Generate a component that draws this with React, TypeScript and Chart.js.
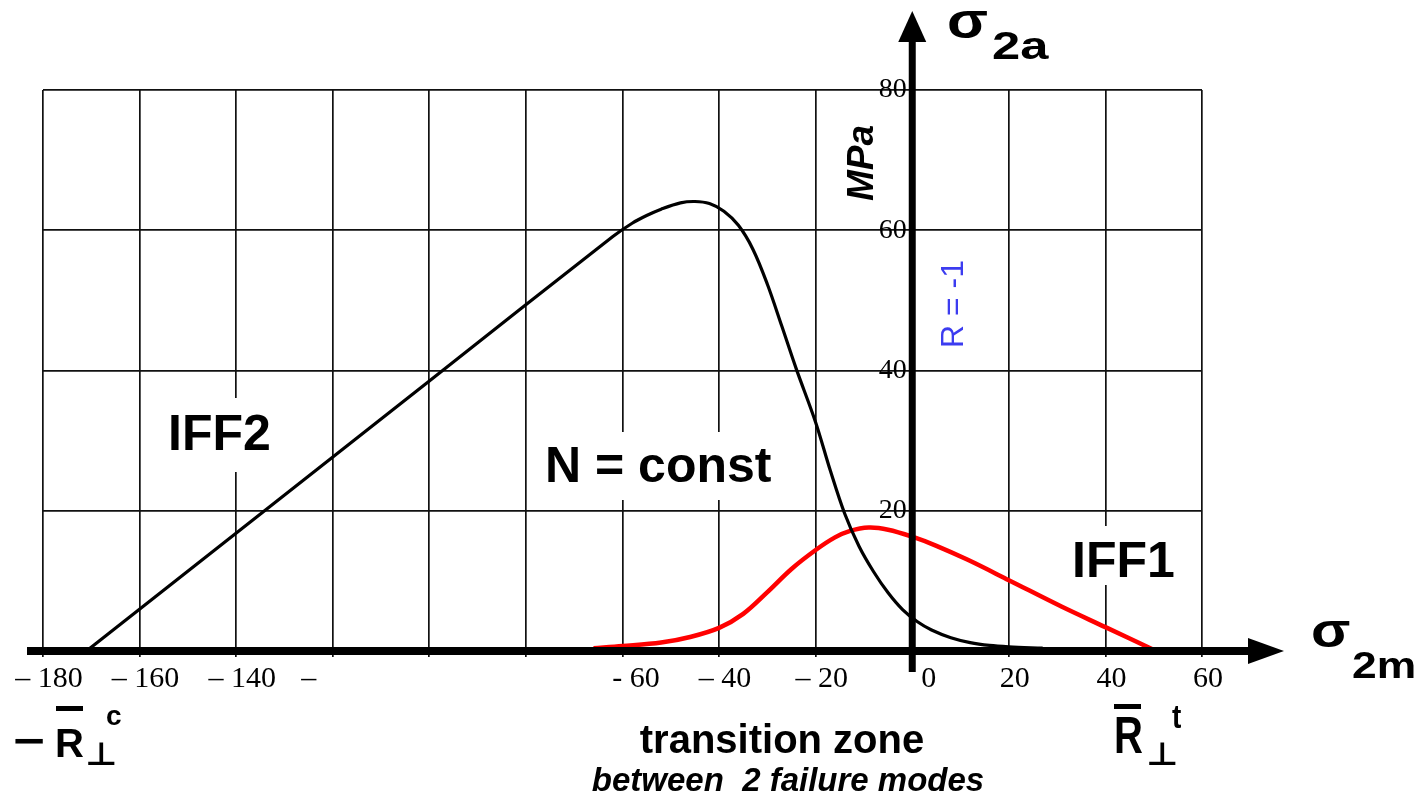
import React, { useEffect, useRef } from 'react';
import { Chart, registerables } from 'chart.js';

Chart.register(...registerables);

// ---- axis ticks ----
const xTickValues = [-180, -160, -140, -120, -100, -80, -60, -40, -20, 0, 20, 40, 60];
const xTickLabels = ['– 180', '– 160', '– 140', '–\u2003\u2003', '', '', '\u2002- 60', '– 40', '– 20', '\u2002\u20090', '20', '40', '60'];
const yTickValues = [0, 20, 40, 60, 80];
const yTickLabels = ['', '20\u2009', '40\u2009', '60\u2009', '80\u2009'];

// ---- IFF2 curve (black) ----
const iff2X = [-171, -100, -62, -58, -55, -52, -48, -45, -42, -39, -36, -33, -30, -27, -24, -20, -17, -14, -11, -8, -5, -2, 1, 4, 8, 12, 16, 20, 27];
const iff2Y = [0, 38.5, 59.1, 61.0, 62.1, 63.0, 63.9, 64.1, 63.8, 62.7, 60.7, 57.3, 52.3, 46.3, 40.2, 32.6, 25.8, 19.6, 14.9, 11.3, 8.3, 5.9, 4.2, 3.0, 1.9, 1.2, 0.8, 0.6, 0.4];

// ---- IFF1 curve (red) ----
const iff1X = [-66, -60, -52, -46, -40, -35, -30, -25, -20, -16, -13, -9, -5, 0, 5, 11.5, 20, 31, 40, 50.5];
const iff1Y = [0.4, 0.7, 1.2, 2.0, 3.3, 5.3, 8.4, 11.7, 14.4, 16.2, 17.1, 17.6, 17.3, 16.3, 15.0, 13.0, 10.1, 6.3, 3.4, 0];

const toPoints = (xs: number[], ys: number[]) => xs.map((x, i) => ({ x, y: ys[i] }));

function txt(
  ctx: CanvasRenderingContext2D,
  s: string,
  x: number,
  y: number,
  font: string,
  color = '#000',
  align: CanvasTextAlign = 'left',
  sx = 1,
  sy = 1,
  rot = 0
) {
  ctx.save();
  ctx.translate(x, y);
  if (rot) ctx.rotate(rot);
  ctx.scale(sx, sy);
  ctx.font = font;
  ctx.fillStyle = color;
  ctx.textAlign = align;
  ctx.textBaseline = 'alphabetic';
  ctx.fillText(s, 0, 0);
  ctx.restore();
}

const SANS = '"Liberation Sans", Arial, sans-serif';

const annotPlugin = {
  id: 'annot',
  beforeDatasetsDraw(chart: any) {
    const ctx: CanvasRenderingContext2D = chart.ctx;
    ctx.save();
    ctx.fillStyle = '#fff';
    ctx.fillRect(158, 398, 122, 74);
    ctx.fillRect(535, 432, 250, 68);
    ctx.fillRect(1062, 526, 115, 59);
    ctx.restore();
    txt(ctx, 'IFF2', 168, 450, `bold 50px ${SANS}`);
    txt(ctx, 'N = const', 545, 482, `bold 50px ${SANS}`);
    txt(ctx, 'IFF1', 1072, 577, `bold 50px ${SANS}`);
  },
  afterDraw(chart: any) {
    const ctx: CanvasRenderingContext2D = chart.ctx;
    const ax = chart.scales.x.getPixelForValue(0);
    const ay = chart.scales.y.getPixelForValue(0);
    ctx.save();
    ctx.fillStyle = '#000';
    ctx.strokeStyle = '#000';
    // x axis
    ctx.lineWidth = 8;
    ctx.beginPath();
    ctx.moveTo(27, ay);
    ctx.lineTo(1252, ay);
    ctx.stroke();
    ctx.beginPath();
    ctx.moveTo(1284, ay);
    ctx.lineTo(1248, ay - 13);
    ctx.lineTo(1248, ay + 13);
    ctx.closePath();
    ctx.fill();
    // y axis
    ctx.lineWidth = 7;
    ctx.beginPath();
    ctx.moveTo(ax, 672);
    ctx.lineTo(ax, 38);
    ctx.stroke();
    ctx.beginPath();
    ctx.moveTo(ax, 11);
    ctx.lineTo(ax - 14, 42);
    ctx.lineTo(ax + 14, 42);
    ctx.closePath();
    ctx.fill();
    ctx.restore();

    // axis names
    txt(ctx, 'σ', 947, 38, `bold 50px ${SANS}`, '#000', 'left', 1.2, 1);
    txt(ctx, '2a', 992, 59, `bold 39px ${SANS}`, '#000', 'left', 1.3, 1);
    txt(ctx, 'σ', 1311, 647, `bold 48px ${SANS}`, '#000', 'left', 1.2, 1);
    txt(ctx, '2m', 1352, 678, `bold 37px ${SANS}`, '#000', 'left', 1.2, 1);

    // units and R = -1
    txt(ctx, 'MPa', 873, 163, `italic bold 37px ${SANS}`, '#000', 'center', 1, 1, -Math.PI / 2);
    txt(ctx, 'R = -1', 963, 304, `32px ${SANS}`, '#3c3cf0', 'center', 1, 1, -Math.PI / 2);

    // -R⊥c
    txt(ctx, '−', 13, 755, `bold 42px ${SANS}`, '#000', 'left', 1.3, 1);
    txt(ctx, 'R', 55, 757, `bold 40px ${SANS}`, '#000', 'left', 1, 1);
    ctx.fillRect(56, 706, 27, 5);
    txt(ctx, '⊥', 85, 765, `bold 32px "DejaVu Sans", sans-serif`, '#000', 'left', 1.1, 1);
    txt(ctx, 'c', 106, 725, `bold 28px ${SANS}`, '#000', 'left', 1, 1);

    // R⊥t
    txt(ctx, 'R', 1114, 753, `bold 40px ${SANS}`, '#000', 'left', 1, 1.28);
    ctx.fillRect(1114, 704, 27, 5);
    txt(ctx, '⊥', 1146, 765, `bold 32px "DejaVu Sans", sans-serif`, '#000', 'left', 1.1, 1);
    txt(ctx, 't', 1172, 728, `bold 28px ${SANS}`, '#000', 'left', 1, 1.2);

    // bottom captions
    txt(ctx, 'transition zone', 782, 753, `bold 40px ${SANS}`, '#000', 'center');
    txt(ctx, 'between  2 failure modes', 788, 791, `italic bold 33px ${SANS}`, '#000', 'center');
  },
};

export default function App() {
  const ref = useRef<HTMLCanvasElement | null>(null);

  useEffect(() => {
    document.body.style.margin = '0';
    const canvas = ref.current;
    if (!canvas) return;
    const chart = new Chart(canvas, {
      type: 'line',
      data: {
        datasets: [
          {
            label: 'IFF2',
            data: toPoints(iff2X, iff2Y),
            borderColor: '#000000',
            borderWidth: 3.2,
            pointRadius: 0,
            tension: 0.35,
            fill: false,
          },
          {
            label: 'IFF1',
            data: toPoints(iff1X, iff1Y),
            borderColor: '#ff0000',
            borderWidth: 4.5,
            pointRadius: 0,
            tension: 0.35,
            fill: false,
          },
        ],
      },
      options: {
        animation: false,
        responsive: false,
        events: [],
        layout: { padding: { left: 43, top: 90, right: 218, bottom: 145 } },
        plugins: { legend: { display: false }, tooltip: { enabled: false } },
        scales: {
          x: {
            type: 'linear',
            position: { y: 0 } as any,
            min: -180,
            max: 60,
            afterBuildTicks: (s: any) => {
              s.ticks = xTickValues.map((v) => ({ value: v }));
            },
            ticks: {
              autoSkip: false,
              maxRotation: 0,
              labelOffset: 6,
              padding: 4,
              color: '#000',
              font: { family: '"Liberation Serif", "Times New Roman", serif', size: 30 },
              callback: (v: any) => {
                const i = xTickValues.indexOf(Number(v));
                return i >= 0 ? xTickLabels[i] : '';
              },
            },
            grid: { color: '#111', lineWidth: 1.7, drawTicks: true, tickLength: 6 },
            border: { display: false },
          },
          y: {
            type: 'linear',
            position: { x: 0 } as any,
            min: 0,
            max: 80,
            afterBuildTicks: (s: any) => {
              s.ticks = yTickValues.map((v) => ({ value: v }));
            },
            ticks: {
              autoSkip: false,
              color: '#000',
              font: { family: '"Liberation Serif", "Times New Roman", serif', size: 28 },
              callback: (v: any) => {
                const i = yTickValues.indexOf(Number(v));
                return i >= 0 ? yTickLabels[i] : '';
              },
            },
            grid: { color: '#111', lineWidth: 1.7, drawTicks: false },
            border: { display: false },
          },
        },
      },
      plugins: [annotPlugin],
    });
    return () => chart.destroy();
  }, []);

  return (
    <div style={{ position: 'absolute', left: 0, top: 0, width: 1420, height: 796, background: '#fff' }}>
      <canvas ref={ref} width={1420} height={796} style={{ display: 'block', width: 1420, height: 796 }} />
    </div>
  );
}
